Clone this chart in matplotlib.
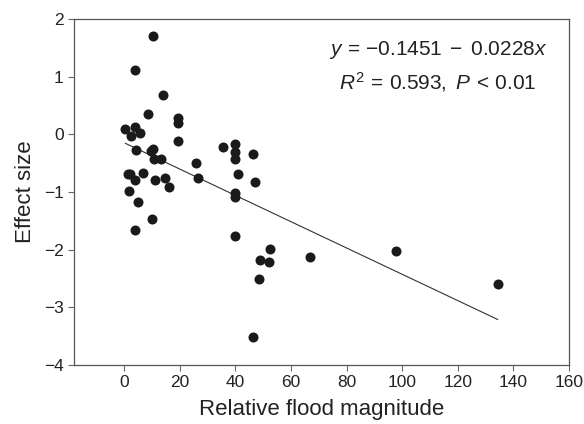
#scatter of effect size vs relative flood magnitude, with the fitted line

import matplotlib
matplotlib.use("Agg")
import matplotlib.pyplot as plt
import numpy as np

plt.rcParams['font.family'] = ['Liberation Sans', 'DejaVu Sans']
plt.rcParams['mathtext.fontset'] = 'custom'
plt.rcParams['mathtext.rm'] = 'Liberation Sans'
plt.rcParams['mathtext.it'] = 'Liberation Sans:italic'

#values
flood = [10.3, 4.0, 13.9, 8.4, 19.3, 19.3, 0.4, 4.0, 2.4, 5.8, 19.3, 4.4,
         9.5, 10.5, 35.7, 10.8, 13.3, 25.8, 1.2, 2.2, 6.7, 4.0, 11.2, 14.7,
         16.1, 26.7, 1.9, 4.9, 10.0, 4.0, 39.9, 39.9, 39.9, 46.3, 41.1, 46.9,
         39.9, 39.9, 39.9, 52.3, 48.9, 52.2, 66.7, 48.6, 46.5, 97.8, 134.4]
effect = [1.70, 1.11, 0.68, 0.36, 0.28, 0.19, 0.09, 0.13, -0.02, 0.03, -0.11, -0.27,
          -0.28, -0.25, -0.22, -0.43, -0.43, -0.49, -0.69, -0.69, -0.67, -0.79, -0.79, -0.76,
          -0.92, -0.76, -0.99, -1.17, -1.47, -1.66, -0.16, -0.30, -0.43, -0.34, -0.69, -0.83,
          -1.02, -1.08, -1.77, -1.99, -2.18, -2.22, -2.13, -2.51, -3.51, -2.02, -2.59]
intercept = -0.1451
slope = -0.0228
xticks = [0, 20, 40, 60, 80, 100, 120, 140, 160]
yticks = [-4, -3, -2, -1, 0, 1, 2]

fig = plt.figure(figsize=(5.84, 4.24), dpi=100)
ax = fig.add_axes([0.127, 0.139, 0.847, 0.816])

x = np.array(flood)
ax.scatter(x, effect, s=52, color='#1a1a1a', zorder=3, linewidths=0)
xl = np.array([x.min(), x.max()])
ax.plot(xl, intercept + slope * xl, color='#333333', linewidth=0.8)

ax.set_xlim(-18, 160)
ax.set_ylim(-4, 2)
ax.set_xticks(xticks)
ax.set_yticks(yticks)
ax.set_yticklabels(['\u2212%d' % -v if v < 0 else str(v) for v in yticks])
ax.tick_params(labelsize=12.5, length=4, width=0.8, color='#666666', labelcolor='#222222')
for sp in ax.spines.values():
	sp.set_color('#555555')
	sp.set_linewidth(0.9)

ax.set_xlabel('Relative flood magnitude', fontsize=16, color='#222222', labelpad=6)
ax.set_ylabel('Effect size', fontsize=16, color='#222222', labelpad=6)

ax.text(0.735, 0.91, r'$y\,=\,{-}0.1451\;-\;0.0228x$', transform=ax.transAxes,
	ha='center', va='center', fontsize=15, color='#222222')
ax.text(0.735, 0.818, r'$R^2\,=\,0.593,\ P\,<\,0.01$', transform=ax.transAxes,
	ha='center', va='center', fontsize=15, color='#222222')

plt.savefig("out.png", dpi=100)
